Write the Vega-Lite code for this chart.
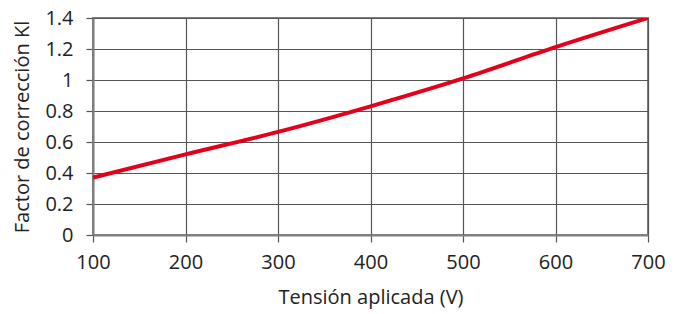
{
  "$schema": "https://vega.github.io/schema/vega-lite/v6.json",
  "autosize": "none",
  "width": 555,
  "height": 217,
  "padding": {"left": 93, "top": 18, "right": 32, "bottom": 79},
  "background": "white",
  "config": {
    "font": "Open Sans",
    "view": {"stroke": "#808080", "strokeWidth": 2},
    "axis": {
      "labelFont": "Open Sans",
      "titleFont": "Open Sans",
      "labelFontSize": 20,
      "titleFontSize": 20,
      "labelColor": "#222",
      "titleColor": "#222",
      "titleFontWeight": "normal",
      "gridColor": "#555",
      "gridWidth": 1.2,
      "gridOpacity": 1,
      "domainColor": "#808080",
      "domainWidth": 2,
      "tickColor": "#555",
      "tickWidth": 1.2,
      "tickSize": 7
    }
  },
  "data": {
    "values": [
      {"v": 100, "k": 0.37},
      {"v": 200, "k": 0.52},
      {"v": 300, "k": 0.665},
      {"v": 400, "k": 0.83},
      {"v": 500, "k": 1.01},
      {"v": 600, "k": 1.212},
      {"v": 700, "k": 1.40}
    ]
  },
  "mark": {"type": "line", "color": "#e3001b", "strokeWidth": 4, "interpolate": "monotone", "clip": true},
  "encoding": {
    "x": {
      "field": "v",
      "type": "quantitative",
      "scale": {"domain": [100, 700], "nice": false},
      "axis": {"values": [100, 200, 300, 400, 500, 600, 700], "format": "d", "title": "Tensión aplicada (V)", "labelPadding": 10, "titlePadding": 15, "labelFlush": false}
    },
    "y": {
      "field": "k",
      "type": "quantitative",
      "scale": {"domain": [0, 1.4], "nice": false},
      "axis": {"values": [0, 0.2, 0.4, 0.6, 0.8, 1, 1.2, 1.4], "format": "~g", "title": "Factor de corrección Kl", "labelPadding": 13, "titlePadding": 12, "labelFlush": false}
    }
  }
}
